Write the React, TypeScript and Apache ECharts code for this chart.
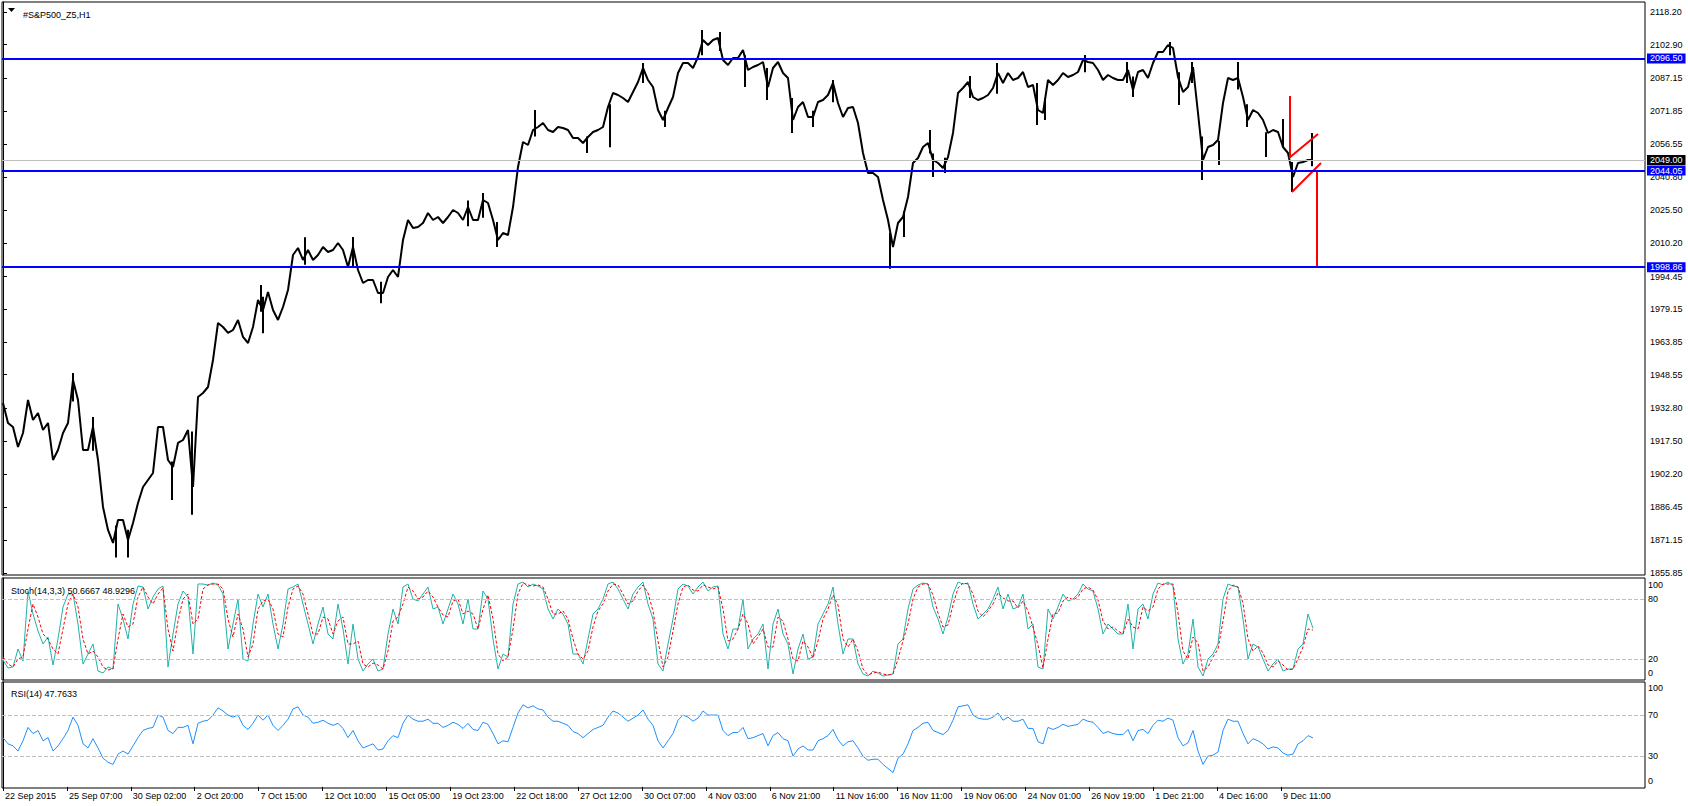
import React, { useEffect, useRef } from "react";
import * as echarts from "echarts";

// ---- data ----
const SYMBOL_TITLE = "#S&P500_Z5,H1";
const TIME_LABELS = [
  "22 Sep 2015", "25 Sep 07:00", "30 Sep 02:00", "2 Oct 20:00", "7 Oct 15:00",
  "12 Oct 10:00", "15 Oct 05:00", "19 Oct 23:00", "22 Oct 18:00", "27 Oct 12:00",
  "30 Oct 07:00", "4 Nov 03:00", "6 Nov 21:00", "11 Nov 16:00", "16 Nov 11:00",
  "19 Nov 06:00", "24 Nov 01:00", "26 Nov 19:00", "1 Dec 21:00", "4 Dec 16:00",
  "9 Dec 11:00",
];
const PRICE_TICKS = [
  2118.2, 2102.9, 2087.15, 2071.85, 2056.55, 2040.8, 2025.5, 2010.2, 1994.45,
  1979.15, 1963.85, 1948.55, 1932.8, 1917.5, 1902.2, 1886.45, 1871.15, 1855.85,
];
const BLUE_LEVELS = [2096.5, 2044.05, 1998.86];
const BID_PRICE = 2049.0;
const STOCH_LEVELS = [80, 20];
const RSI_LEVELS = [70, 30];
const STOCH_LABELS = ["0", "20", "80", "100"];
const RSI_LABELS = ["0", "30", "70", "100"];

// closes sampled every 5 hourly bars
const PRICE = [
  1935.33, 1925.97, 1924.1, 1914.75, 1921.29, 1936.73, 1927.38, 1930.65, 1922.7, 1925.97,
  1908.67, 1913.34, 1921.29, 1925.97, 1946.08, 1936.73, 1913.34, 1913.34, 1924.1, 1908.67,
  1886.69, 1875.93, 1869.85, 1880.61, 1880.61, 1871.25, 1879.21, 1888.56, 1896.04, 1899.32,
  1902.59, 1924.1, 1924.1, 1908.67, 1905.39, 1916.62, 1918.02, 1922.7, 1896.04, 1938.14,
  1940.0, 1942.81, 1955.44, 1972.74, 1970.87, 1968.07, 1969.47, 1974.15, 1966.2, 1963.39,
  1970.87, 1983.5, 1978.82, 1987.24, 1978.82, 1974.15, 1980.22, 1988.18, 2004.55, 2007.82,
  2002.21, 2006.89, 2002.21, 2004.55, 2008.29, 2005.95, 2006.89, 2010.16, 2006.89, 1998.94,
  2008.29, 1997.53, 1991.45, 1992.85, 1992.85, 1986.77, 1986.77, 1994.26, 1997.53, 1994.26,
  2011.56, 2020.92, 2017.18, 2017.64, 2019.51, 2024.19, 2020.92, 2022.32, 2019.51, 2022.32,
  2025.59, 2024.19, 2020.92, 2026.99, 2020.92, 2020.92, 2030.27, 2028.87, 2020.92, 2011.56,
  2014.84, 2013.9, 2026.99, 2045.71, 2057.4, 2056.0, 2063.01, 2064.41, 2066.28, 2063.01,
  2062.08, 2064.41, 2063.95, 2063.01, 2059.27, 2059.27, 2056.93, 2059.74, 2062.08, 2063.01,
  2064.41, 2073.77, 2080.31, 2079.38, 2077.97, 2076.1, 2080.78, 2085.46, 2092.01, 2086.39,
  2083.12, 2072.36, 2067.69, 2073.3, 2078.44, 2089.67, 2094.35, 2094.35, 2092.01, 2097.15,
  2105.1, 2102.77, 2105.1, 2106.04, 2095.75, 2093.41, 2096.68, 2096.68, 2100.43, 2091.07,
  2092.48, 2093.41, 2094.81, 2083.12, 2092.01, 2094.81, 2089.67, 2087.33, 2067.69, 2073.77,
  2076.1, 2069.09, 2069.09, 2076.1, 2077.04, 2079.38, 2084.99, 2075.64, 2069.09, 2073.3,
  2073.77, 2066.28, 2052.25, 2042.9, 2042.9, 2041.03, 2030.27, 2020.92, 2008.29, 2019.51,
  2022.32, 2031.67, 2047.58, 2049.91, 2055.06, 2056.93, 2048.98, 2047.58, 2045.24, 2050.38,
  2061.61, 2080.31, 2082.65, 2085.46, 2078.44, 2077.04, 2077.97, 2079.38, 2082.65, 2089.67,
  2084.99, 2089.67, 2086.39, 2087.33, 2090.14, 2083.12, 2084.05, 2072.36, 2070.96, 2086.39,
  2084.05, 2086.39, 2089.67, 2087.8, 2088.73, 2090.14, 2095.75, 2094.81, 2094.35, 2091.07,
  2086.39, 2088.73, 2087.33, 2086.39, 2086.39, 2091.07, 2081.72, 2090.14, 2091.07, 2087.33,
  2094.35, 2099.49, 2099.49, 2102.77, 2101.36, 2087.8, 2080.78, 2083.12, 2092.48, 2070.96,
  2048.98, 2055.06, 2056.0, 2058.33, 2075.64, 2087.33, 2086.39, 2087.33, 2078.44, 2067.69,
  2072.36, 2070.96, 2067.69, 2061.61, 2063.01, 2062.08, 2055.06, 2052.25, 2041.03, 2047.58,
  2048.04, 2048.98, 2049.0,
];

// long single-bar ranges (wicks): [bar, low, high]
const WICKS = [
  [70, 1936, 1949.4], [90, 1913, 1928.8], [113, 1863, 1878], [125, 1863, 1876],
  [169, 1890, 1908], [189, 1883, 1922], [258, 1978, 1990.5], [260, 1968, 1985],
  [302, 2000, 2012.9], [350, 1999, 2013], [378, 1982, 1992], [465, 2018, 2030],
  [480, 2022, 2033.5], [494, 2008.3, 2020], [532, 2060, 2072.4], [584, 2052.3, 2060],
  [607, 2055, 2075], [640, 2085, 2094.3], [662, 2064.4, 2072], [699, 2098, 2109.8],
  [717, 2100, 2108.8], [742, 2083.1, 2098], [764, 2077, 2092], [789, 2061.6, 2078],
  [810, 2064.4, 2072], [830, 2076, 2086.4], [887, 1998.1, 2015], [901, 2013, 2025],
  [927, 2052, 2063], [930, 2041, 2052], [942, 2042.9, 2050], [967, 2078, 2088.3],
  [994, 2080, 2094.3], [1034, 2065.4, 2085], [1042, 2067.7, 2078], [1082, 2090, 2098.1],
  [1124, 2085, 2094.8], [1130, 2078.4, 2088], [1167, 2098, 2104.2], [1176, 2074.7, 2090],
  [1189, 2085, 2094.8], [1199, 2039.6, 2060], [1216, 2046.6, 2058], [1235, 2082, 2094.8],
  [1244, 2064.4, 2075], [1263, 2050.4, 2062], [1280, 2055, 2068.2], [1287, 2050, 2078.9],
  [1289, 2034, 2048], [1309, 2046, 2061.6],
];

const STOCH_MAIN = [
  19, 11, 12, 30, 18, 88, 65, 48, 35, 42,
  14, 40, 72, 85, 85, 55, 15, 25, 35, 8,
  6, 12, 10, 75, 60, 40, 75, 93, 92, 70,
  82, 90, 93, 12, 45, 75, 88, 82, 25, 95,
  95, 94, 96, 94, 85, 30, 55, 80, 20, 18,
  55, 85, 72, 85, 55, 30, 55, 90, 92, 95,
  75, 55, 35, 55, 72, 45, 40, 75, 50, 15,
  55, 20, 8, 15, 20, 8, 10, 45, 70, 55,
  92, 95, 80, 78, 85, 92, 70, 72, 55, 70,
  85, 75, 55, 80, 50, 50, 88, 80, 40, 10,
  25, 22, 75, 95, 97, 92, 95, 93, 90, 70,
  60, 70, 65, 55, 25, 25, 15, 40, 65, 70,
  80, 95, 97, 90, 80, 70, 85, 92, 97, 75,
  60, 15, 8, 35, 60, 90, 95, 93, 85, 92,
  97, 88, 92, 93, 45, 30, 50, 50, 80, 30,
  40, 45, 55, 10, 55, 70, 45, 35, 5, 30,
  45, 20, 22, 55, 65, 75, 92, 55, 25, 40,
  40, 15, 5, 3, 8, 6, 3, 4, 5, 35,
  40, 70, 90, 94, 96, 95, 72, 60, 45, 62,
  85, 97, 95, 96, 75, 60, 65, 70, 80, 92,
  70, 85, 70, 72, 85, 50, 55, 12, 10, 70,
  60, 72, 85, 78, 80, 85, 95, 90, 88, 70,
  45, 55, 50, 45, 45, 75, 30, 70, 75, 60,
  85, 96, 94, 97, 93, 40, 15, 25, 60, 12,
  3, 20, 25, 35, 80, 95, 93, 92, 60, 20,
  35, 32, 20, 8, 15, 20, 8, 10, 10, 30,
  35, 65, 50.6667,
];

const STOCH_SIGNAL = [
  22, 15, 12, 20, 22, 50, 75, 62, 45, 40,
  30, 25, 50, 75, 85, 72, 40, 25, 28, 22,
  12, 9, 10, 40, 65, 52, 55, 82, 92, 82,
  75, 85, 91, 50, 28, 58, 80, 85, 55, 60,
  90, 94, 95, 95, 90, 60, 42, 65, 50, 22,
  35, 70, 78, 80, 70, 45, 42, 72, 90, 93,
  85, 65, 45, 45, 62, 60, 45, 58, 62, 35,
  35, 38, 15, 12, 16, 14, 10, 28, 58, 62,
  75, 92, 88, 80, 82, 88, 82, 72, 64, 62,
  78, 80, 65, 68, 65, 50, 70, 84, 60, 25,
  18, 22, 50, 85, 96, 94, 93, 94, 92, 80,
  65, 65, 68, 60, 40, 25, 20, 28, 52, 68,
  75, 88, 95, 94, 85, 75, 78, 88, 94, 86,
  68, 38, 12, 22, 48, 75, 92, 94, 89, 88,
  94, 92, 90, 92, 70, 38, 40, 50, 65, 55,
  35, 42, 50, 32, 32, 62, 58, 40, 20, 18,
  38, 32, 21, 38, 60, 70, 84, 74, 40, 32,
  40, 28, 10, 4, 6, 7, 5, 4, 5, 20,
  38, 55, 80, 92, 95, 95, 84, 66, 52, 54,
  74, 91, 96, 95, 85, 68, 62, 68, 75, 86,
  81, 78, 78, 71, 78, 68, 52, 34, 11, 40,
  65, 66, 78, 82, 79, 82, 90, 92, 89, 79,
  58, 50, 52, 48, 45, 60, 52, 50, 72, 68,
  72, 90, 95, 95, 95, 66, 28, 20, 42, 36,
  8, 12, 22, 30, 58, 88, 94, 92, 76, 40,
  28, 33, 26, 14, 12, 18, 14, 9, 10, 20,
  32, 50, 48.9296,
];

const RSI = [
  48, 42, 40, 35, 45, 58, 52, 55, 45, 48,
  35, 40, 47, 55, 68, 60, 42, 38, 47, 38,
  28, 24, 22, 32, 35, 32, 40, 48, 55, 57,
  58, 70, 68, 55, 52, 58, 58, 60, 42, 62,
  64, 65, 70, 77, 74, 70, 68, 70, 60, 56,
  62, 70, 65, 70, 60, 55, 60, 66, 76, 78,
  70, 68, 62, 63, 65, 62, 60, 62, 57, 48,
  55, 45, 38, 40, 42, 36, 37, 45, 50, 48,
  62, 70, 66, 64, 64, 66, 62, 62, 58, 60,
  63, 61, 57, 62, 56, 55, 63, 61, 52, 42,
  45, 44, 58, 72, 80, 77, 79, 76, 75, 68,
  64, 64, 62, 60, 54, 52, 48, 52, 56, 58,
  60, 68, 74, 72, 68, 64, 67, 70, 75, 66,
  60, 45, 38, 45, 52, 65, 70, 68, 64, 67,
  74, 70, 70, 70, 55, 50, 53, 53, 58, 47,
  48, 50, 52, 40, 50, 53, 47, 45, 30, 37,
  40, 36, 36, 45, 47, 50, 56, 46, 40, 44,
  45, 38, 30, 26, 27, 27, 22, 18, 14, 28,
  32, 42, 55, 58, 62, 63, 55, 53, 51, 55,
  65, 78, 79, 80, 70, 67, 66, 66, 68, 72,
  65, 68, 64, 64, 66, 57, 57, 44, 42, 58,
  56, 58, 61, 59, 60, 61, 66, 64, 63, 58,
  52, 54, 52, 51, 51, 56, 45, 55, 56, 52,
  60, 65, 64, 67, 65, 48, 40, 43, 55, 35,
  22, 30, 31, 34, 55, 66, 64, 64, 52, 42,
  47, 45, 42, 37, 39, 38, 33, 31, 32, 42,
  45, 50, 47.7633,
];

// red trend lines: [bar, price] pairs
const TREND_LINES = [
  [[1287, 2078.9], [1287, 2049.9]],
  [[1286, 2049.9], [1315, 2061.1]],
  [[1289, 2034.0], [1318, 2047.6]],
  [[1314, 2044.05], [1314, 1998.86]],
];

// ---- layout constants ----
const W = 1688;
const H = 806;
const STEP = 5; // bars per sample
const BARS_PER_LABEL = 63.9;
const FONT = "'Liberation Sans', Arial, sans-serif";
const FS = 9;

export default function App() {
  const ref = useRef<HTMLDivElement | null>(null);

  useEffect(() => {
    if (!ref.current) return;
    const chart = echarts.init(ref.current, null, { renderer: "svg", width: W, height: H });
    const toXY = (arr: number[]) => arr.map((v, i) => [i * STEP, v]);
    const tickPos = TIME_LABELS.map((_, k) => k * BARS_PER_LABEL);
    const lastMain = STOCH_MAIN[STOCH_MAIN.length - 1];
    const lastSig = STOCH_SIGNAL[STOCH_SIGNAL.length - 1];
    const lastRsi = RSI[RSI.length - 1];

    const gridBase = { left: 2, width: 1643, show: true, borderColor: "#000", borderWidth: 1 };
    const xAxes = [0, 1, 2].map((g) => ({
      type: "value",
      gridIndex: g,
      min: -1,
      max: 1642,
      show: g === 2,
      splitLine: { show: false },
      axisLine: { show: false },
      axisTick: {
        show: g === 2,
        customValues: tickPos,
        length: 4,
        lineStyle: { color: "#000" },
      },
      axisLabel: {
        show: g === 2,
        customValues: tickPos,
        formatter: (v: number) => TIME_LABELS[Math.round(v / BARS_PER_LABEL)] ?? "",
        align: "left",
        margin: 3,
        padding: [0, 0, 0, 2],
        color: "#000",
        fontSize: FS,
        fontFamily: FONT,
      },
    }));

    const smallLabel = { color: "#000", fontSize: FS, fontFamily: FONT, margin: 3 };

    const levelLine = (vals: number[]) => ({
      silent: true,
      symbol: ["none", "none"],
      label: { show: false },
      lineStyle: { color: "#C0C0C0", type: "dashed", width: 1 },
      data: vals.map((v) => ({ yAxis: v })),
    });

    const priceLabel = (bg: string) => ({
      show: true,
      position: "end",
      distance: 2,
      color: "#fff",
      backgroundColor: bg,
      padding: [1, 3, 0, 3],
      fontSize: FS,
      fontFamily: FONT,
      formatter: (p: any) => Number(p.value).toFixed(2),
    });

    const option: any = {
      animation: false,
      backgroundColor: "#fff",
      title: [
        { text: SYMBOL_TITLE, left: 18, top: 5, textStyle: { fontSize: FS, fontWeight: "normal", color: "#000", fontFamily: FONT } },
        {
          text: `Stoch(14,3,3) ${lastMain.toFixed(4)} ${lastSig.toFixed(4)}`,
          left: 6, top: 581,
          textStyle: { fontSize: FS, fontWeight: "normal", color: "#000", fontFamily: FONT },
        },
        {
          text: `RSI(14) ${lastRsi.toFixed(4)}`,
          left: 6, top: 684,
          textStyle: { fontSize: FS, fontWeight: "normal", color: "#000", fontFamily: FONT },
        },
      ],
      graphic: [
        { type: "polygon", shape: { points: [[8, 8], [15, 8], [11.5, 12]] }, style: { fill: "#000" } },
      ],
      grid: [
        { ...gridBase, top: 2, height: 573 },
        { ...gridBase, top: 578, height: 102 },
        { ...gridBase, top: 682, height: 106 },
      ],
      xAxis: xAxes,
      yAxis: [
        {
          type: "value",
          gridIndex: 0,
          position: "right",
          min: 1854.87,
          max: 2122.88,
          splitLine: { show: false },
          axisLine: { show: true, lineStyle: { color: "#000" } },
          axisTick: { show: true, customValues: PRICE_TICKS, length: 4, lineStyle: { color: "#000" } },
          axisLabel: { ...smallLabel, margin: 5, customValues: PRICE_TICKS, formatter: (v: number) => v.toFixed(2) },
        },
        {
          type: "value",
          gridIndex: 1,
          position: "right",
          min: -1,
          max: 101,
          splitLine: { show: false },
          axisLine: { show: true, lineStyle: { color: "#000" } },
          axisTick: { show: false },
          axisLabel: {
            ...smallLabel,
            customValues: [6, 20, 80, 94],
            formatter: (v: number) => (v < 10 ? STOCH_LABELS[0] : v > 90 ? STOCH_LABELS[3] : String(v)),
          },
        },
        {
          type: "value",
          gridIndex: 2,
          position: "right",
          min: -1,
          max: 102.2,
          splitLine: { show: false },
          axisLine: { show: true, lineStyle: { color: "#000" } },
          axisTick: { show: false },
          axisLabel: {
            ...smallLabel,
            customValues: [6, 30, 70, 96.5],
            formatter: (v: number) => (v < 10 ? RSI_LABELS[0] : v > 90 ? RSI_LABELS[3] : String(v)),
          },
        },
      ],
      series: [
        {
          type: "line",
          name: "price",
          xAxisIndex: 0,
          yAxisIndex: 0,
          data: toXY(PRICE),
          showSymbol: false,
          symbol: "none",
          lineStyle: { color: "#000", width: 2 },
          z: 3,
          markLine: {
            silent: true,
            symbol: ["none", "none"],
            data: [
              {
                yAxis: BID_PRICE,
                lineStyle: { color: "#C0C0C0", width: 1, type: "solid" },
                label: priceLabel("#000"),
              },
              ...BLUE_LEVELS.map((v) => ({
                yAxis: v,
                lineStyle: { color: "#0000FF", width: 2, type: "solid" },
                label: priceLabel("#0000FF"),
              })),
            ],
          },
        },
        {
          type: "custom",
          name: "wicks",
          xAxisIndex: 0,
          yAxisIndex: 0,
          data: WICKS,
          encode: { x: 0, y: [1, 2] },
          z: 3,
          renderItem: (_params: any, api: any) => {
            const x = api.value(0);
            const p1 = api.coord([x, api.value(1)]);
            const p2 = api.coord([x, api.value(2)]);
            return {
              type: "line",
              shape: { x1: p1[0], y1: p1[1], x2: p2[0], y2: p2[1] },
              style: { stroke: "#000", lineWidth: 2 },
            };
          },
        },
        ...TREND_LINES.map((seg) => ({
          type: "line",
          xAxisIndex: 0,
          yAxisIndex: 0,
          data: seg,
          showSymbol: false,
          symbol: "none",
          lineStyle: { color: "#FF0000", width: 2 },
          z: 4,
        })),
        {
          type: "line",
          name: "stoch",
          xAxisIndex: 1,
          yAxisIndex: 1,
          data: toXY(STOCH_MAIN),
          showSymbol: false,
          symbol: "none",
          lineStyle: { color: "#20B2AA", width: 1 },
          markLine: levelLine(STOCH_LEVELS),
        },
        {
          type: "line",
          name: "signal",
          xAxisIndex: 1,
          yAxisIndex: 1,
          data: toXY(STOCH_SIGNAL),
          showSymbol: false,
          symbol: "none",
          lineStyle: { color: "#FF0000", width: 1, type: [3, 2] },
        },
        {
          type: "line",
          name: "rsi",
          xAxisIndex: 2,
          yAxisIndex: 2,
          data: toXY(RSI),
          showSymbol: false,
          symbol: "none",
          lineStyle: { color: "#1E90FF", width: 1 },
          markLine: levelLine(RSI_LEVELS),
        },
      ],
    };

    chart.setOption(option);
    return () => chart.dispose();
  }, []);

  return (
    <div
      ref={ref}
      style={{ position: "absolute", left: 0, top: 0, width: W, height: H, background: "#fff" }}
    />
  );
}
